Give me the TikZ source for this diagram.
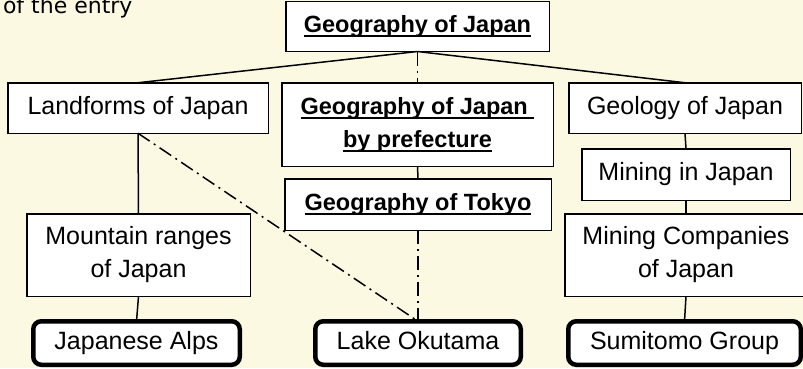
\documentclass[tikz,border=0pt]{standalone}
\usepackage{fontspec}
\setmainfont{Liberation Sans}
\newfontfamily\notefont{DejaVu Sans}
\newcommand{\linkul}[1]{\setbox0\hbox{\fontsize{23.5}{33}\selectfont\bfseries #1}\rlap{\rule[-4.5pt]{\wd0}{1.6pt}}\box0}
\definecolor{paper}{RGB}{252,249,226}
\begin{document}
\begin{tikzpicture}[x=1pt,y=-1pt,inner sep=0pt,outer sep=0pt,line width=1.5pt,
catbox/.style={draw,fill=white,rectangle,align=center,line width=1.5pt,font=\fontsize{25}{33}\selectfont},
pagebox/.style={draw,fill=white,rectangle,rounded corners=8pt,align=center,line width=4.5pt,text height=18pt,text depth=5pt,font=\fontsize{25}{33}\selectfont},
dashdot/.style={dash pattern=on 14pt off 5pt on 2pt off 5pt}]

\fill[paper] (0,0) rectangle (803,368);
\useasboundingbox (0,0) rectangle (803,368);
\draw (3,13.5) node[anchor=base west,font=\notefont\fontsize{22}{26}\selectfont] (note) {of the entry};

% categories
\draw (417.5,26.5) node[catbox,minimum width=263.5pt,minimum height=50pt] (geo) {\linkul{Geography of Japan}};
\draw (138,108) node[catbox,minimum width=260.5pt,minimum height=50.5pt] (land) {Landforms of Japan};
\draw (417.5,124.5) node[catbox,minimum width=271.5pt,minimum height=83.5pt] (pref) {\linkul{Geography of Japan\ }\\\linkul{by prefecture}};
\draw (418,204.5) node[catbox,minimum width=266.5pt,minimum height=51.5pt] (tokyo) {\linkul{Geography of Tokyo}};
\draw (685,108) node[catbox,minimum width=232.5pt,minimum height=50.5pt] (geol) {Geology of Japan};
\draw (686,174.5) node[catbox,minimum width=208.5pt,minimum height=51.5pt] (mine) {Mining in Japan};
\draw (138.5,255) node[catbox,minimum width=223.5pt,minimum height=82.5pt] (mtn) {Mountain ranges\\of Japan};
\draw (686,255) node[catbox,minimum width=242.5pt,minimum height=82.5pt] (comp) {Mining Companies\\of Japan};

% pages
\draw (136.5,343) node[pagebox,minimum width=206.5pt,minimum height=43.5pt] (alps) {Japanese Alps};
\draw (418,343) node[pagebox,minimum width=205.5pt,minimum height=43.5pt] (lake) {Lake Okutama};
\draw (684.5,343) node[pagebox,minimum width=232.5pt,minimum height=43.5pt] (sumi) {Sumitomo Group};

\draw (geo.south) -- (land.north);
\draw (geo.south) -- (geol.north);
\draw[dashdot] (geo.south) -- (pref.north);
\draw (pref.south) -- (tokyo.north);
\draw[dashdot] (tokyo.south) -- (lake.north);
\draw[dashdot] (land.south) -- (lake.north);
\draw (land.south) -- (mtn.north);
\draw (mtn.south) -- (alps.north);
\draw (geol.south) -- (mine.north);
\draw (mine.south) -- (comp.north);
\draw (comp.south) -- (sumi.north);
\end{tikzpicture}
\end{document}
